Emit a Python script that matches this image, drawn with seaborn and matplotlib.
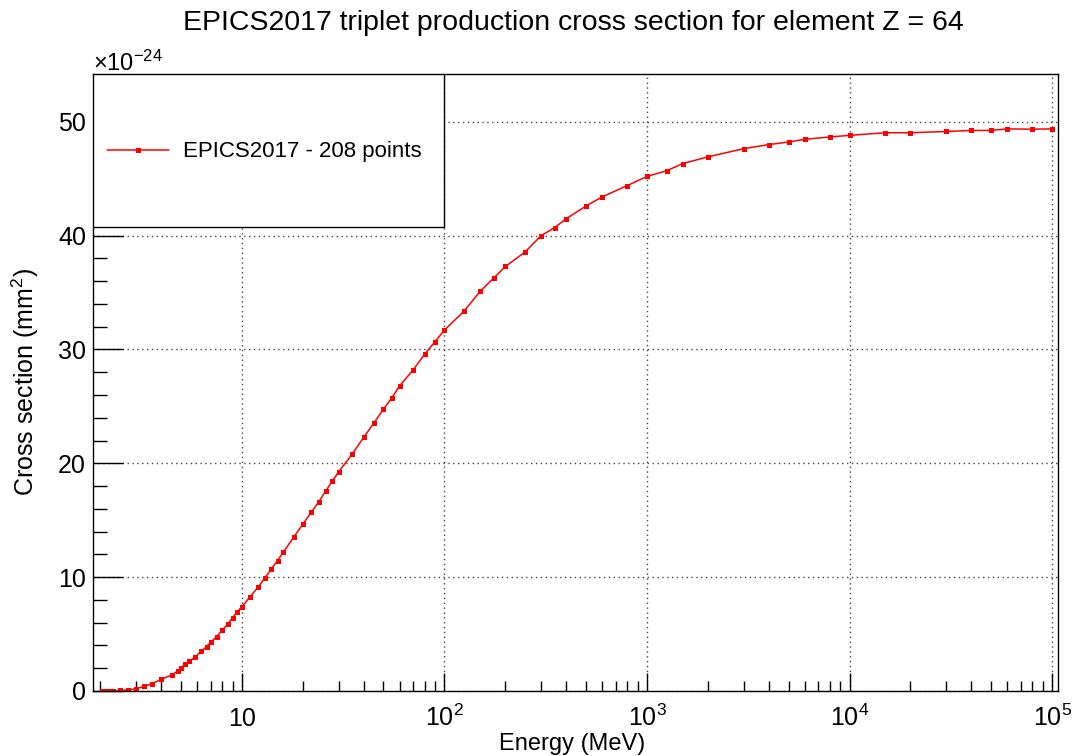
import numpy as np
import pandas as pd
import matplotlib
matplotlib.use("Agg")
import matplotlib.pyplot as plt
from matplotlib.patches import Rectangle
from matplotlib.ticker import FixedLocator, NullFormatter
import seaborn as sns

# ---- data ----
energy_mev = [2.044, 2.1, 2.2, 2.3, 2.5, 2.75, 3.0, 3.3, 3.6, 4.0, 4.5, 4.85,
              5.0, 5.25, 5.5, 5.85, 6.3, 6.7, 7.0, 7.5, 8.0, 8.5, 9.0, 9.5,
              10.0, 11.0, 12.0, 13.0, 14.0, 15.0, 16.0, 18.0, 20.0, 22.0,
              24.0, 26.0, 28.0, 30.0, 35.0, 40.0, 45.0, 50.0, 55.0, 60.0,
              70.0, 80.0, 90.0, 100.0, 125.0, 150.0, 175.0, 200.0, 250.0,
              300.0, 350.0, 400.0, 500.0, 600.0, 800.0, 1000.0, 1250.0,
              1500.0, 2000.0, 3000.0, 4000.0, 5000.0, 6000.0, 8000.0,
              10000.0, 15000.0, 20000.0, 30000.0, 40000.0, 50000.0,
              60000.0, 80000.0, 100000.0]
xs_1e24 = [0.0, 0.0, 0.01, 0.02, 0.05, 0.1, 0.2, 0.4, 0.65, 1.03, 1.4, 1.8,
           2.05, 2.35, 2.6, 2.95, 3.5, 3.9, 4.28, 4.77, 5.36, 5.86, 6.45, 6.97,
           7.41, 8.29, 9.11, 9.93, 10.75, 11.45, 12.19, 13.5, 14.65, 15.7,
           16.64, 17.6, 18.45, 19.24, 20.8, 22.3, 23.58, 24.75, 25.75, 26.8,
           28.2, 29.6, 30.7, 31.7, 33.37, 35.1, 36.27, 37.29, 38.56,
           40.0, 40.7, 41.5, 42.6, 43.4, 44.4, 45.2, 45.7,
           46.33, 46.92, 47.64, 48.0, 48.23, 48.46, 48.67,
           48.81, 49.04, 49.04, 49.15, 49.24, 49.24,
           49.38, 49.35, 49.38]
series_label = "EPICS2017 - 208 points"
title = "EPICS2017 triplet production cross section for element Z = 64"
major_x = [10, 100, 1000, 10000, 100000]
major_x_labels = ["10", "$10^{2}$", "$10^{3}$", "$10^{4}$", "$10^{5}$"]
major_y = [0, 10, 20, 30, 40, 50]

df = pd.DataFrame({"Energy": energy_mev, "xs": xs_1e24})

sns.set_style("white")
plt.rcParams["font.family"] = ["Liberation Sans", "DejaVu Sans"]
plt.rcParams["mathtext.fontset"] = "custom"
plt.rcParams["mathtext.rm"] = "Liberation Sans"
plt.rcParams["mathtext.it"] = "Liberation Sans:italic"
plt.rcParams["text.color"] = "black"
plt.rcParams["xtick.color"] = "black"
plt.rcParams["ytick.color"] = "black"

W, H = 1073, 756
fig = plt.figure(figsize=(W / 100, H / 100), dpi=100)
L, R, T, B = 93, 1058, 74, 691
ax = fig.add_axes([L / W, 1 - B / H, (R - L) / W, (B - T) / H])

sns.lineplot(data=df, x="Energy", y="xs", ax=ax, color="red", lw=1.1,
             marker="s", markersize=3.6, markeredgewidth=0, label=series_label,
             legend=False)

ax.set_xscale("log")
ax.set_xlim(1.84, 1.07e5)
ax.set_ylim(0, 54.2)

# ticks
ax.xaxis.set_major_locator(FixedLocator(major_x))
ax.set_xticklabels(major_x_labels)
minor = [m * 10 ** d for d in range(0, 5) for m in range(2, 10)]
ax.xaxis.set_minor_locator(FixedLocator(minor))
ax.xaxis.set_minor_formatter(NullFormatter())
ax.yaxis.set_major_locator(FixedLocator(major_y))
ax.yaxis.set_minor_locator(FixedLocator([v for v in np.arange(0, 54, 2) if v % 10 != 0]))
ax.tick_params(axis="x", which="major", direction="in", length=13, width=1,
               labelsize=18, pad=25.5, bottom=True, top=False, colors="black")
ax.tick_params(axis="x", which="minor", direction="in", length=7, width=1,
               bottom=True, top=False, colors="black")
ax.tick_params(axis="y", which="major", direction="in", length=21.5, width=1,
               labelsize=18, pad=5, left=True, right=False, colors="black")
ax.tick_params(axis="y", which="minor", direction="in", length=10, width=1,
               left=True, right=False, colors="black")
for lab in ax.get_xticklabels():
    lab.set_verticalalignment("baseline")

ax.grid(True, which="major", linestyle=(0, (1, 2.5)), color="#444444", lw=1)
for s in ax.spines.values():
    s.set_color("black")
    s.set_linewidth(1)

ax.set_xlabel("")
ax.set_ylabel("")
fig.text(572 / W, 1 - 750 / H, "Energy (MeV)", fontsize=17,
         ha="center", va="baseline")
fig.text(25 / W, 1 - ((T + B) / 2) / H, "Cross section (mm$^{2}$)", fontsize=18,
         ha="center", va="center", rotation=90)
fig.text(573.5 / W, 1 - 23 / H, title, fontsize=20.5, ha="center", va="center")
ax.text(0.0, (B - 71) / (B - T), r"$\times$10$^{-24}$", transform=ax.transAxes,
        fontsize=17, ha="left", va="baseline")

# legend box
ax.add_patch(Rectangle((0, 0.752), 0.3637, 0.248, transform=ax.transAxes,
                       facecolor="white", edgecolor="black", lw=1, zorder=5))
handles, labels = ax.get_legend_handles_labels()
leg = ax.legend(handles, labels, loc="center left", bbox_to_anchor=(0.0145, 0.8736),
                frameon=False, fontsize=16, handlelength=2.8, handletextpad=0.6,
                borderpad=0, borderaxespad=0)
leg.set_zorder(6)

fig.savefig("out.png", dpi=100)
